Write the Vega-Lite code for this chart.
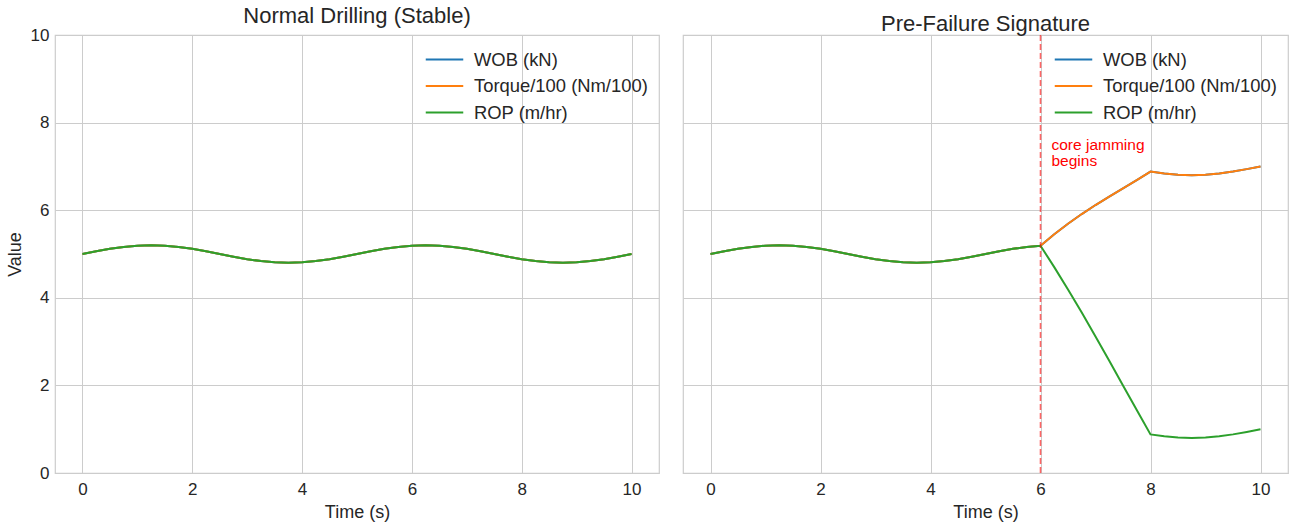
{
  "$schema": "https://vega.github.io/schema/vega-lite/v6.json",
  "padding": {"left": 5, "top": 4, "right": 1, "bottom": 5},
  "background": "white",
  "datasets": {
    "normal": [
      {"t":0,"WOB":5.000,"Torque":5.000,"ROP":5.000},
      {"t":0.25,"WOB":5.062,"Torque":5.062,"ROP":5.062},
      {"t":0.5,"WOB":5.118,"Torque":5.118,"ROP":5.118},
      {"t":0.75,"WOB":5.162,"Torque":5.162,"ROP":5.162},
      {"t":1,"WOB":5.190,"Torque":5.190,"ROP":5.190},
      {"t":1.25,"WOB":5.200,"Torque":5.200,"ROP":5.200},
      {"t":1.5,"WOB":5.190,"Torque":5.190,"ROP":5.190},
      {"t":1.75,"WOB":5.162,"Torque":5.162,"ROP":5.162},
      {"t":2,"WOB":5.118,"Torque":5.118,"ROP":5.118},
      {"t":2.25,"WOB":5.062,"Torque":5.062,"ROP":5.062},
      {"t":2.5,"WOB":5.000,"Torque":5.000,"ROP":5.000},
      {"t":2.75,"WOB":4.938,"Torque":4.938,"ROP":4.938},
      {"t":3,"WOB":4.882,"Torque":4.882,"ROP":4.882},
      {"t":3.25,"WOB":4.838,"Torque":4.838,"ROP":4.838},
      {"t":3.5,"WOB":4.810,"Torque":4.810,"ROP":4.810},
      {"t":3.75,"WOB":4.800,"Torque":4.800,"ROP":4.800},
      {"t":4,"WOB":4.810,"Torque":4.810,"ROP":4.810},
      {"t":4.25,"WOB":4.838,"Torque":4.838,"ROP":4.838},
      {"t":4.5,"WOB":4.882,"Torque":4.882,"ROP":4.882},
      {"t":4.75,"WOB":4.938,"Torque":4.938,"ROP":4.938},
      {"t":5,"WOB":5.000,"Torque":5.000,"ROP":5.000},
      {"t":5.25,"WOB":5.062,"Torque":5.062,"ROP":5.062},
      {"t":5.5,"WOB":5.118,"Torque":5.118,"ROP":5.118},
      {"t":5.75,"WOB":5.162,"Torque":5.162,"ROP":5.162},
      {"t":6,"WOB":5.190,"Torque":5.190,"ROP":5.190},
      {"t":6.25,"WOB":5.200,"Torque":5.200,"ROP":5.200},
      {"t":6.5,"WOB":5.190,"Torque":5.190,"ROP":5.190},
      {"t":6.75,"WOB":5.162,"Torque":5.162,"ROP":5.162},
      {"t":7,"WOB":5.118,"Torque":5.118,"ROP":5.118},
      {"t":7.25,"WOB":5.062,"Torque":5.062,"ROP":5.062},
      {"t":7.5,"WOB":5.000,"Torque":5.000,"ROP":5.000},
      {"t":7.75,"WOB":4.938,"Torque":4.938,"ROP":4.938},
      {"t":8,"WOB":4.882,"Torque":4.882,"ROP":4.882},
      {"t":8.25,"WOB":4.838,"Torque":4.838,"ROP":4.838},
      {"t":8.5,"WOB":4.810,"Torque":4.810,"ROP":4.810},
      {"t":8.75,"WOB":4.800,"Torque":4.800,"ROP":4.800},
      {"t":9,"WOB":4.810,"Torque":4.810,"ROP":4.810},
      {"t":9.25,"WOB":4.838,"Torque":4.838,"ROP":4.838},
      {"t":9.5,"WOB":4.882,"Torque":4.882,"ROP":4.882},
      {"t":9.75,"WOB":4.938,"Torque":4.938,"ROP":4.938},
      {"t":10,"WOB":5.000,"Torque":5.000,"ROP":5.000}
    ],
    "failure": [
      {"t":0,"WOB":5.000,"Torque":5.000,"ROP":5.000},
      {"t":0.25,"WOB":5.062,"Torque":5.062,"ROP":5.062},
      {"t":0.5,"WOB":5.118,"Torque":5.118,"ROP":5.118},
      {"t":0.75,"WOB":5.162,"Torque":5.162,"ROP":5.162},
      {"t":1,"WOB":5.190,"Torque":5.190,"ROP":5.190},
      {"t":1.25,"WOB":5.200,"Torque":5.200,"ROP":5.200},
      {"t":1.5,"WOB":5.190,"Torque":5.190,"ROP":5.190},
      {"t":1.75,"WOB":5.162,"Torque":5.162,"ROP":5.162},
      {"t":2,"WOB":5.118,"Torque":5.118,"ROP":5.118},
      {"t":2.25,"WOB":5.062,"Torque":5.062,"ROP":5.062},
      {"t":2.5,"WOB":5.000,"Torque":5.000,"ROP":5.000},
      {"t":2.75,"WOB":4.938,"Torque":4.938,"ROP":4.938},
      {"t":3,"WOB":4.882,"Torque":4.882,"ROP":4.882},
      {"t":3.25,"WOB":4.838,"Torque":4.838,"ROP":4.838},
      {"t":3.5,"WOB":4.810,"Torque":4.810,"ROP":4.810},
      {"t":3.75,"WOB":4.800,"Torque":4.800,"ROP":4.800},
      {"t":4,"WOB":4.810,"Torque":4.810,"ROP":4.810},
      {"t":4.25,"WOB":4.838,"Torque":4.838,"ROP":4.838},
      {"t":4.5,"WOB":4.882,"Torque":4.882,"ROP":4.882},
      {"t":4.75,"WOB":4.938,"Torque":4.938,"ROP":4.938},
      {"t":5,"WOB":5.000,"Torque":5.000,"ROP":5.000},
      {"t":5.25,"WOB":5.062,"Torque":5.062,"ROP":5.062},
      {"t":5.5,"WOB":5.118,"Torque":5.118,"ROP":5.118},
      {"t":5.75,"WOB":5.162,"Torque":5.162,"ROP":5.162},
      {"t":6,"WOB":5.190,"Torque":5.190,"ROP":5.190},
      {"t":6.25,"WOB":5.450,"Torque":5.450,"ROP":4.700},
      {"t":6.5,"WOB":5.690,"Torque":5.690,"ROP":4.190},
      {"t":6.75,"WOB":5.912,"Torque":5.912,"ROP":3.662},
      {"t":7,"WOB":6.118,"Torque":6.118,"ROP":3.118},
      {"t":7.25,"WOB":6.312,"Torque":6.312,"ROP":2.562},
      {"t":7.5,"WOB":6.500,"Torque":6.500,"ROP":2.000},
      {"t":7.75,"WOB":6.688,"Torque":6.688,"ROP":1.438},
      {"t":8,"WOB":6.882,"Torque":6.882,"ROP":0.882},
      {"t":8.25,"WOB":6.838,"Torque":6.838,"ROP":0.838},
      {"t":8.5,"WOB":6.810,"Torque":6.810,"ROP":0.810},
      {"t":8.75,"WOB":6.800,"Torque":6.800,"ROP":0.800},
      {"t":9,"WOB":6.810,"Torque":6.810,"ROP":0.810},
      {"t":9.25,"WOB":6.838,"Torque":6.838,"ROP":0.838},
      {"t":9.5,"WOB":6.882,"Torque":6.882,"ROP":0.882},
      {"t":9.75,"WOB":6.938,"Torque":6.938,"ROP":0.938},
      {"t":10,"WOB":7.000,"Torque":7.000,"ROP":1.000}
    ],
    "note": [{"t": 6.2, "v": 7.65, "label": "core jamming\nbegins", "x0": 6}]
  },
  "spacing": 22,
  "resolve": {"scale": {"color": "independent"}, "legend": {"color": "independent"}},
  "hconcat": [
    {
      "width": 604,
      "height": 438,
      "title": "Normal Drilling (Stable)",
      "data": {"name": "normal"},
      "transform": [{"fold": ["WOB", "Torque", "ROP"], "as": ["series", "value"]}],
      "mark": {"type": "line", "strokeWidth": 2, "clip": true},
      "encoding": {
        "x": {"field": "t", "type": "quantitative", "title": "Time (s)",
              "scale": {"domain": [-0.5, 10.5], "nice": false, "zero": false},
              "axis": {"values": [0, 2, 4, 6, 8, 10], "format": "d"}},
        "y": {"field": "value", "type": "quantitative", "title": "Value",
              "scale": {"domain": [0, 10], "nice": false},
              "axis": {"values": [0, 2, 4, 6, 8, 10], "format": "d"}},
        "color": {"field": "series", "type": "nominal",
                  "scale": {"domain": ["WOB", "Torque", "ROP"], "range": ["#1f77b4", "#ff7f0e", "#2ca02c"]},
                  "legend": {"title": null, "orient": "top-right",
                             "labelExpr": "datum.label == 'WOB' ? 'WOB (kN)' : datum.label == 'Torque' ? 'Torque/100 (Nm/100)' : 'ROP (m/hr)'"}}
      }
    },
    {
      "width": 605,
      "height": 438,
      "title": "Pre-Failure Signature",
      "layer": [
        {
          "data": {"name": "failure"},
          "transform": [{"fold": ["WOB", "Torque", "ROP"], "as": ["series", "value"]}],
          "mark": {"type": "line", "strokeWidth": 2, "clip": true},
          "encoding": {
            "x": {"field": "t", "type": "quantitative", "title": "Time (s)",
                  "scale": {"domain": [-0.5, 10.5], "nice": false, "zero": false},
                  "axis": {"values": [0, 2, 4, 6, 8, 10], "format": "d"}},
            "y": {"field": "value", "type": "quantitative",
                  "scale": {"domain": [0, 10], "nice": false},
                  "axis": {"values": [0, 2, 4, 6, 8, 10], "labels": false, "title": null}},
            "color": {"field": "series", "type": "nominal",
                      "scale": {"domain": ["WOB", "Torque", "ROP"], "range": ["#1f77b4", "#ff7f0e", "#2ca02c"]},
                      "legend": {"title": null, "orient": "top-right",
                                 "labelExpr": "datum.label == 'WOB' ? 'WOB (kN)' : datum.label == 'Torque' ? 'Torque/100 (Nm/100)' : 'ROP (m/hr)'"}}
          }
        },
        {
          "data": {"name": "note"},
          "mark": {"type": "rule", "color": "#ff0000", "opacity": 0.6, "strokeWidth": 1.6, "strokeDash": [6, 3]},
          "encoding": {"x": {"field": "x0", "type": "quantitative"}}
        },
        {
          "data": {"name": "note"},
          "mark": {"type": "text", "color": "#ff0000", "fontSize": 15.5, "align": "left", "baseline": "top", "lineBreak": "\n", "lineHeight": 16},
          "encoding": {
            "x": {"field": "t", "type": "quantitative"},
            "y": {"field": "v", "type": "quantitative"},
            "text": {"field": "label"}
          }
        }
      ]
    }
  ],
  "config": {
    "font": "Liberation Sans",
    "view": {"stroke": "#cccccc", "strokeWidth": 1.2},
    "axis": {
      "grid": true, "gridColor": "#cccccc", "gridWidth": 1,
      "domain": false, "ticks": false,
      "labelFontSize": 17, "labelColor": "#262626", "labelPadding": 6,
      "titleFontSize": 18, "titleFontWeight": "normal", "titleColor": "#262626", "titlePadding": 6
    },
    "axisX": {"labelPadding": 8},
    "title": {"fontSize": 22, "fontWeight": "normal", "color": "#262626", "offset": -2},
    "legend": {
      "symbolType": "M-1.5,0H1.5", "symbolSize": 625, "symbolStrokeWidth": 2,
      "labelFontSize": 18.4, "labelColor": "#262626", "labelOffset": 16, "labelLimit": 400,
      "rowPadding": 3.5, "offset": 11, "padding": 0
    }
  }
}
